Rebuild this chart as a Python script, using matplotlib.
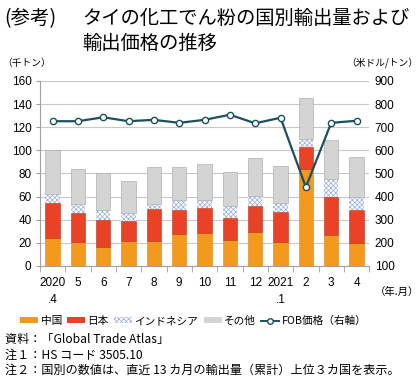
import numpy as np
import matplotlib.pyplot as plt
from matplotlib.lines import Line2D
from matplotlib.patches import Patch

plt.rcParams['font.family'] = ['Noto Sans CJK JP', 'DejaVu Sans']
plt.rcParams['hatch.linewidth'] = 0.5

# データ
months = ['2020\n.4', '5', '6', '7', '8', '9', '10', '11', '12', '2021\n.1', '2', '3', '4']
china = [24.6, 20.9, 16.8, 21.4, 22.0, 27.5, 28.7, 22.9, 29.3, 20.6, 83.8, 27.2, 20.3]
japan_top = [54.8, 46.0, 40.0, 38.8, 49.3, 48.1, 50.1, 41.2, 51.6, 47.0, 102.9, 60.0, 48.7]
indo_top = [62.6, 53.3, 48.1, 45.5, 53.9, 56.8, 56.8, 52.2, 60.3, 54.2, 110.1, 75.1, 59.7]
total = [100.0, 83.5, 80.0, 73.6, 85.2, 85.8, 87.8, 80.9, 93.6, 86.7, 145.2, 109.3, 94.2]
fob = [726, 726, 743, 726, 732, 719, 732, 754, 717, 741, 441, 719, 728]

china = np.array(china)
japan = np.array(japan_top) - china
indo = np.array(indo_top) - np.array(japan_top)
other = np.array(total) - np.array(indo_top)

c_china = '#F39A1E'
c_japan = '#EA4226'
c_other = '#D4D4D4'
c_line = '#1D4F5E'
c_hatch = '#93ABDC'

fig = plt.figure(figsize=(4.2, 3.82), dpi=100)
ax = fig.add_axes([0.095, 0.3037, 0.784, 0.4843])
x = np.arange(len(months))
w = 0.57

ax.bar(x, china, w, color=c_china, edgecolor='#D98515', linewidth=0.4, zorder=2)
ax.bar(x, japan, w, bottom=china, color=c_japan, edgecolor='#B83018', linewidth=0.4, zorder=2)
ax.bar(x, indo, w, bottom=np.array(japan_top), color='white', edgecolor=c_hatch,
       hatch='xxxxxxx', linewidth=0, zorder=2)
ax.bar(x, other, w, bottom=np.array(indo_top), color=c_other, edgecolor='#B0B0B0',
       linewidth=0.5, zorder=2)

ax.set_xlim(-0.5, len(months) - 0.5)
ax.set_ylim(0, 160)
ax.set_yticks(range(0, 161, 20))
ax.yaxis.grid(True, color='#C8C8C8', linewidth=0.8, zorder=0)
ax.set_axisbelow(True)
for s in ['top', 'right']:
    ax.spines[s].set_visible(False)
ax.spines['left'].set_color('#A0A0A0')
ax.spines['bottom'].set_color('#A0A0A0')

ax.set_xticks(x)
ax.set_xticklabels(months, family='Liberation Sans', fontsize=8.5, linespacing=1.6,
                   va='top')
ax.tick_params(axis='x', which='major', length=0, pad=8)
ax.set_xticks(np.arange(-0.5, len(months), 1), minor=True)
ax.tick_params(axis='x', which='minor', length=4, color='#A0A0A0')
ax.tick_params(axis='y', length=3, color='#A0A0A0', labelsize=8.5, pad=3)
for lab in ax.get_yticklabels():
    lab.set_family('Liberation Sans')

ax2 = ax.twinx()
ax2.plot(x, fob, color=c_line, linewidth=1.6, marker='o', markersize=4.5,
         markerfacecolor='white', markeredgecolor=c_line, markeredgewidth=1.0, zorder=5)
ax2.set_ylim(100, 900)
ax2.set_yticks(range(100, 901, 100))
for s in ['top', 'right', 'left', 'bottom']:
    ax2.spines[s].set_visible(False)
ax2.tick_params(axis='y', length=0, labelsize=8.5, pad=4)
for lab in ax2.get_yticklabels():
    lab.set_family('Liberation Sans')

# タイトル・ラベル
fig.text(0.01, 0.978, '(参考)', fontsize=14, va='top', ha='left')
fig.text(0.195, 0.978, 'タイの化工でん粉の国別輸出量および\n輸出価格の推移', fontsize=13.9,
         va='top', ha='left', linespacing=1.22)
fig.text(0.005, 0.835, '（千トン）', fontsize=7, va='center', ha='left')
fig.text(0.997, 0.835, '（米ドル/トン）', fontsize=7, va='center', ha='right')
fig.text(0.997, 0.235, '（年.月）', fontsize=7.5, va='center', ha='right')

handles = [Patch(facecolor=c_china, edgecolor='none'),
           Patch(facecolor=c_japan, edgecolor='none'),
           Patch(facecolor='white', edgecolor=c_hatch, hatch='xxxxxxx', linewidth=0),
           Patch(facecolor=c_other, edgecolor='none'),
           Line2D([], [], color=c_line, linewidth=1.4, marker='o', markersize=4,
                  markerfacecolor='white', markeredgecolor=c_line)]
labels = ['中国', '日本', 'インドネシア', 'その他', 'FOB価格（右軸）']
fig.legend(handles, labels, loc='center', bbox_to_anchor=(0.46, 0.16), ncol=5,
           frameon=False, fontsize=7.7, handlelength=1.7, handleheight=0.45,
           handletextpad=0.2, columnspacing=0.5)

notes = ['資料：「Global Trade Atlas」',
         '注１：HS コード 3505.10',
         '注２：国別の数値は、直近 13 カ月の輸出量（累計）上位３カ国を表示。']
for i, t in enumerate(notes):
    fig.text(0.012, 0.11 - i * 0.04, t, fontsize=8.7, va='center', ha='left')

fig.savefig('out.png', dpi=100)
